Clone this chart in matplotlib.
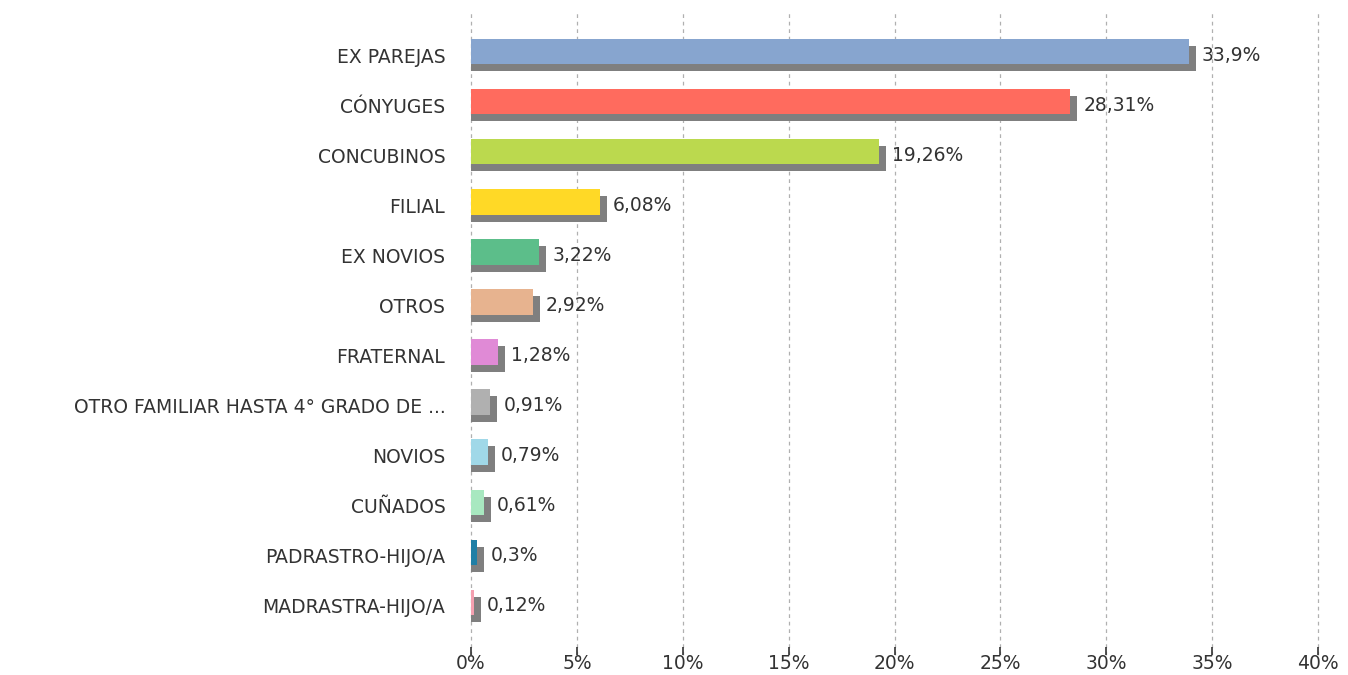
import matplotlib.pyplot as plt
from matplotlib.ticker import FuncFormatter

categories = [
    "EX PAREJAS", "CÓNYUGES", "CONCUBINOS", "FILIAL", "EX NOVIOS", "OTROS",
    "FRATERNAL", "OTRO FAMILIAR HASTA 4° GRADO DE ...", "NOVIOS", "CUÑADOS",
    "PADRASTRO-HIJO/A", "MADRASTRA-HIJO/A",
]
values = [33.9, 28.31, 19.26, 6.08, 3.22, 2.92, 1.28, 0.91, 0.79, 0.61, 0.3, 0.12]
labels = ["33,9%", "28,31%", "19,26%", "6,08%", "3,22%", "2,92%",
          "1,28%", "0,91%", "0,79%", "0,61%", "0,3%", "0,12%"]
colors = ["#87A5CF", "#FF6B5E", "#BBD94E", "#FFD926", "#5CBE8A", "#E7B38F",
          "#E08AD6", "#B0B0B0", "#A0D8E8", "#A8E8C0", "#1F7FA6", "#F4A0B0"]

W, H = 1348, 675
fig = plt.figure(figsize=(W / 100, H / 100), dpi=100)
left, right, top, bottom = 471, 1318, 10, 655
ax = fig.add_axes([left / W, 1 - bottom / H, (right - left) / W, (bottom - top) / H])

px_x = 40 / (right - left)      # data units per pixel (x)
px_y = 50.09                    # pixels per category (y)
off = 3.5 / px_y
h = 25.5 / px_y
y = list(range(len(categories)))

# shadow bars: start at 0, extend 7px further, shifted down
ax.barh([i + off for i in y], [v + 7 * px_x for v in values], height=h,
        color="#7F7F7F", zorder=2)
ax.barh([i - off for i in y], values, height=h, color=colors, zorder=3)

for i, v in enumerate(values):
    ax.text(v + 13 * px_x, i, labels[i], va="center", ha="left",
            fontsize=13.5, color="#333333")

ax.set_xlim(0, 40)
ax.set_ylim(11.98, -0.9)
ax.set_xticks(range(0, 41, 5))
ax.xaxis.set_major_formatter(FuncFormatter(lambda x, p: f"{int(x)}%"))
ax.set_yticks(y)
ax.set_yticklabels(categories)
ax.tick_params(axis="y", length=0, pad=18.5, labelsize=13.5, labelcolor="#333333")
ax.tick_params(axis="x", length=6, direction="in", width=1.2, color="#333333",
               pad=-1, labelsize=13.5, labelcolor="#333333")
ax.grid(axis="x", color="#B0B0B0", linestyle=(0, (3, 3)), linewidth=0.9, zorder=0)
for gl in ax.get_xgridlines():
    gl.set_clip_on(False)
ax.set_axisbelow(True)
for s in ax.spines.values():
    s.set_visible(False)

fig.savefig("out.png", dpi=100)
